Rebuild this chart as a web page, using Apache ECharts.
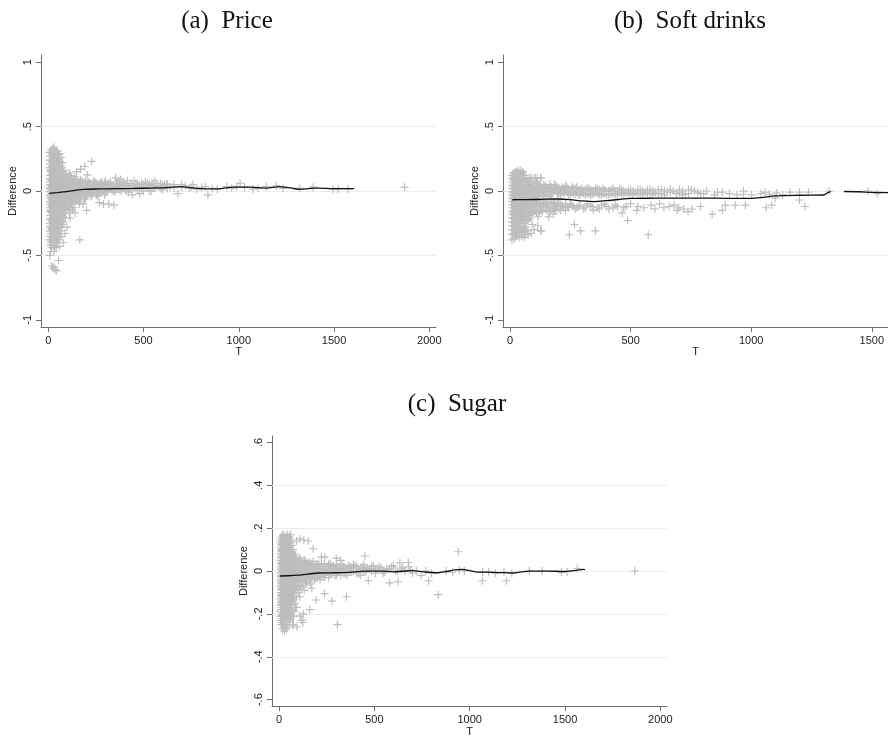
<!DOCTYPE html>
<html>
<head>
<meta charset="utf-8">
<script src="https://cdn.jsdelivr.net/npm/echarts@6/dist/echarts.min.js"></script>
<style>
  html, body { margin: 0; padding: 0; background: #fff; }
  #main { width: 888px; height: 738px; }
</style>
</head>
<body>
<div id="main"></div>
<script>
/* Three panels of difference vs T: scatter (+ markers) with a smoothed line. */

// ---- tick labels / grid lines ----
const xTicks = [0, 500, 1000, 1500, 2000];
const yTicksAB = [-1, -0.5, 0, 0.5, 1];
const yGridAB = [-0.5, 0, 0.5];
const yTicksC = [-0.6, -0.4, -0.2, 0, 0.2, 0.4, 0.6];
const yGridC = [-0.4, -0.2, 0, 0.2, 0.4];

// ---- (a) Price ----
const priceCols = [
  [8, [0.30, 0.24, 0.18, 0.12, 0.07, 0.02, -0.03, -0.08, -0.13, -0.19, -0.25, -0.31, -0.38, -0.50]],
  [13, [0.32, 0.27, 0.21, 0.16, 0.10, 0.05, 0.01, -0.04, -0.09, -0.15, -0.21, -0.27, -0.33, -0.40, -0.47]],
  [18, [0.29, 0.23, 0.19, 0.13, 0.08, 0.03, -0.02, -0.06, -0.11, -0.17, -0.23, -0.29, -0.36, -0.44, -0.58]],
  [24, [0.33, 0.28, 0.22, 0.17, 0.11, 0.06, 0.02, -0.03, -0.08, -0.13, -0.19, -0.25, -0.31, -0.37, -0.42, -0.60]],
  [30, [0.34, 0.30, 0.25, 0.20, 0.14, 0.09, 0.04, -0.01, -0.05, -0.10, -0.16, -0.22, -0.28, -0.34, -0.47, -0.59]],
  [36, [0.31, 0.26, 0.21, 0.15, 0.10, 0.05, 0.00, -0.04, -0.09, -0.14, -0.20, -0.26, -0.32, -0.39, -0.61]],
  [42, [0.29, 0.24, 0.18, 0.13, 0.08, 0.03, -0.02, -0.07, -0.12, -0.18, -0.24, -0.30, -0.36, -0.44, -0.62]],
  [48, [0.31, 0.26, 0.20, 0.15, 0.09, 0.04, -0.01, -0.05, -0.10, -0.15, -0.21, -0.27, -0.34, -0.40]],
  [54, [0.28, 0.22, 0.17, 0.12, 0.07, 0.02, -0.03, -0.08, -0.13, -0.19, -0.25, -0.31, -0.38, -0.54]],
  [60, [0.29, 0.23, 0.16, 0.11, 0.06, 0.01, -0.04, -0.09, -0.14, -0.20, -0.26, -0.33, -0.43]],
  [67, [0.26, 0.20, 0.14, 0.09, 0.04, 0.00, -0.05, -0.10, -0.15, -0.21, -0.28, -0.35]],
  [74, [0.22, 0.15, 0.10, 0.05, 0.01, -0.03, -0.08, -0.13, -0.19, -0.26]],
  [82, [0.16, 0.10, 0.05, 0.00, -0.05, -0.11, -0.17, -0.24]],
  [90, [0.13, 0.07, 0.02, -0.03, -0.08, -0.14, -0.21]],
  [100, [0.11, 0.06, 0.01, -0.04, -0.09, -0.15]],
  [110, [0.14, 0.08, 0.03, -0.02, -0.07, -0.12, -0.17]],
  [122, [0.10, 0.05, 0.00, -0.05, -0.10]],
  [134, [0.09, 0.04, -0.01, -0.06, -0.13]],
  [146, [0.08, 0.03, -0.02, -0.07]],
  [158, [0.07, 0.02, -0.03, -0.08]],
  [170, [0.09, 0.04, -0.01, -0.06]],
  [183, [0.06, 0.01, -0.04, -0.10]],
  [196, [0.08, 0.03, -0.02, -0.06]],
  [210, [0.07, 0.02, -0.02]],
  [224, [0.05, 0.00, -0.04]],
  [238, [0.08, 0.03, -0.01]],
  [252, [0.06, 0.02, -0.03]],
  [266, [0.05, 0.01, -0.02]],
  [280, [0.07, 0.02]],
  [295, [0.06, 0.01, -0.03]],
  [310, [0.05, 0.00]],
  [326, [0.07, 0.02]],
  [342, [0.04, 0.00]],
  [358, [0.06, 0.02]],
  [375, [0.05, 0.01]],
  [392, [0.07, 0.02]],
  [410, [0.04, 0.00]],
  [430, [0.06, 0.02]],
  [450, [0.08, 0.03]],
  [470, [0.05, 0.01]],
  [490, [0.06, 0.02]],
  [510, [0.07, 0.03]],
  [530, [0.05, 0.00]],
  [550, [0.06, 0.02]],
  [570, [0.04]],
  [590, [0.06, 0.02]],
  [610, [0.05]],
  [640, [0.03]]
];
const priceFill = [
  [11, [0.27, 0.21, 0.15, 0.09, 0.045, -0.005, -0.055, -0.105, -0.16, -0.22, -0.28, -0.35, -0.42]],
  [21, [0.31, 0.25, 0.19, 0.14, 0.085, 0.035, -0.015, -0.065, -0.12, -0.17, -0.23, -0.30, -0.39]],
  [33, [0.32, 0.27, 0.22, 0.17, 0.12, 0.065, 0.015, -0.035, -0.085, -0.135, -0.19, -0.25, -0.31, -0.37, -0.43]],
  [45, [0.28, 0.22, 0.16, 0.11, 0.06, 0.01, -0.04, -0.09, -0.14, -0.20, -0.26, -0.32, -0.38]],
  [57, [0.25, 0.19, 0.14, 0.09, 0.04, -0.01, -0.06, -0.11, -0.17, -0.23, -0.29, -0.36]],
  [70, [0.18, 0.12, 0.07, 0.02, -0.02, -0.07, -0.12, -0.18, -0.24, -0.31]],
  [78, [0.13, 0.08, 0.03, -0.02, -0.08, -0.14, -0.20]],
  [86, [0.10, 0.045, -0.005, -0.055, -0.11, -0.17]],
  [95, [0.09, 0.04, -0.01, -0.06, -0.12]],
  [105, [0.085, 0.035, -0.015, -0.065, -0.12]],
  [116, [0.12, 0.07, 0.02, -0.03, -0.08, -0.14]],
  [128, [0.07, 0.025, -0.025, -0.08]],
  [140, [0.11, 0.06, 0.015, -0.035, -0.09]],
  [152, [0.055, 0.005, -0.045]],
  [164, [0.065, 0.015, -0.035, -0.10]],
  [176, [0.075, 0.025, -0.025]],
  [189, [0.045, -0.005, -0.06]],
  [203, [0.055, 0.01, -0.04]],
  [217, [0.065, 0.025, -0.01]],
  [231, [0.04, 0.00, -0.03]],
  [245, [0.07, 0.035, 0.00]],
  [259, [0.045, 0.005, -0.04]],
  [273, [0.06, 0.03, -0.01]],
  [288, [0.045, 0.00]],
  [302, [0.03, -0.01]],
  [318, [0.06, 0.02]],
  [334, [0.045, 0.01]],
  [350, [0.03, -0.01]],
  [366, [0.075, 0.035]],
  [383, [0.04, 0.00]],
  [400, [0.055, 0.015]],
  [420, [0.03, -0.01]],
  [440, [0.045, 0.01]],
  [460, [0.02]],
  [480, [0.04]],
  [500, [0.05, 0.00]],
  [520, [0.03]],
  [540, [0.045, 0.00]],
  [560, [0.025]],
  [580, [0.035]],
  [600, [0.04]],
  [625, [0.02, 0.055]],
  [660, [0.025]],
  [700, [0.05]],
  [750, [0.03]]
];
const priceSparse = [
  [149, 0.15], [170, 0.17], [192, 0.19], [228, 0.23], [205, 0.125], [166, -0.38], [201, -0.15],
  [128, -0.15], [140, -0.17], [115, -0.21], [98, -0.28], [88, -0.33], [78, -0.40], [268, -0.09],
  [290, -0.10], [318, -0.10], [345, -0.11], [353, 0.10], [300, 0.075], [380, 0.09], [415, 0.08],
  [440, -0.03], [460, 0.06], [480, -0.02], [520, 0.06], [560, 0.08], [600, 0.01], [620, 0.05],
  [660, 0.05], [680, -0.02], [700, 0.03], [720, 0.04], [740, 0.02], [760, 0.05], [780, 0.015],
  [805, 0.03], [824, 0.035], [838, -0.03], [860, 0.02], [887, 0.015], [937, 0.035], [963, 0.02],
  [990, 0.035], [1007, 0.06], [1030, 0.03], [1075, 0.015], [1101, 0.02], [1144, 0.035],
  [1197, 0.04], [1232, 0.02], [1320, 0.02], [1390, 0.03], [1495, 0.015], [1521, 0.015],
  [1574, 0.015], [1870, 0.03]
];
const priceSmooth = [
  [5, -0.018], [50, -0.012], [96, -0.005], [140, 0.005], [184, 0.013], [271, 0.016], [350, 0.018],
  [446, 0.02], [540, 0.023], [621, 0.026], [691, 0.034], [740, 0.027], [796, 0.018], [883, 0.016],
  [930, 0.024], [970, 0.03], [1057, 0.03], [1145, 0.023], [1215, 0.034], [1250, 0.028],
  [1285, 0.02], [1320, 0.013], [1350, 0.016], [1390, 0.023], [1440, 0.021], [1495, 0.018], [1605, 0.018]
];

// ---- (b) Soft drinks ----
const softCols = [
  [8, [0.12, 0.07, 0.02, -0.03, -0.08, -0.13, -0.18, -0.24, -0.30, -0.38]],
  [13, [0.14, 0.09, 0.04, -0.01, -0.06, -0.11, -0.16, -0.21, -0.27, -0.33]],
  [18, [0.11, 0.06, 0.01, -0.04, -0.09, -0.14, -0.19, -0.25, -0.31, -0.37]],
  [23, [0.15, 0.10, 0.05, 0.00, -0.05, -0.10, -0.15, -0.20, -0.26, -0.32]],
  [28, [0.13, 0.08, 0.03, -0.02, -0.07, -0.12, -0.17, -0.23, -0.29, -0.35]],
  [33, [0.16, 0.11, 0.06, 0.01, -0.04, -0.09, -0.14, -0.19, -0.24, -0.30]],
  [38, [0.14, 0.09, 0.04, -0.01, -0.06, -0.11, -0.16, -0.22, -0.28, -0.36]],
  [43, [0.16, 0.12, 0.07, 0.02, -0.03, -0.08, -0.13, -0.18, -0.23, -0.30]],
  [48, [0.13, 0.08, 0.03, -0.02, -0.07, -0.12, -0.17, -0.23, -0.29, -0.35]],
  [54, [0.15, 0.10, 0.05, 0.00, -0.05, -0.10, -0.15, -0.20, -0.27, -0.34]],
  [60, [0.12, 0.07, 0.02, -0.03, -0.08, -0.13, -0.19, -0.25, -0.32]],
  [66, [0.10, 0.05, 0.00, -0.05, -0.10, -0.15, -0.21, -0.28, -0.34]],
  [72, [0.08, 0.03, -0.02, -0.07, -0.12, -0.17, -0.23, -0.31]],
  [80, [0.10, 0.05, 0.00, -0.04, -0.09, -0.14, -0.19]],
  [92, [0.06, 0.01, -0.03, -0.08, -0.13, -0.18, -0.26]],
  [104, [0.10, 0.04, 0.00, -0.05, -0.10, -0.15]],
  [116, [0.06, 0.01, -0.04, -0.09, -0.14, -0.20]],
  [128, [0.10, 0.03, -0.01, -0.10, -0.15, -0.31]],
  [140, [0.05, 0.00, -0.04, -0.09, -0.13]],
  [152, [0.03, -0.01, -0.10, -0.15]],
  [165, [0.05, 0.00, -0.04, -0.11, -0.16]],
  [178, [0.02, -0.02, -0.09, -0.13]],
  [190, [0.04, 0.00, -0.11, -0.15]],
  [203, [0.02, -0.02, -0.09, -0.14]],
  [216, [0.03, -0.01, -0.12]],
  [230, [0.04, 0.00, -0.10, -0.15]],
  [243, [0.01, -0.03, -0.13]],
  [256, [0.03, -0.01, -0.11]],
  [270, [0.02, -0.02, -0.14]],
  [284, [0.00, -0.03, -0.12]],
  [298, [0.02, -0.01]],
  [312, [0.01, -0.03, -0.13]],
  [326, [0.02, -0.02]],
  [340, [0.00, -0.03, -0.12]],
  [355, [0.02, -0.01]],
  [370, [0.01, -0.03, -0.14]],
  [385, [0.02, -0.02]],
  [400, [0.00, -0.03, -0.12]],
  [418, [0.01, -0.02]],
  [436, [0.00, -0.03, -0.11]],
  [454, [0.02, -0.01]],
  [472, [0.00, -0.03, -0.13]],
  [490, [0.01, -0.02]],
  [510, [0.00, -0.03]],
  [530, [0.01, -0.02, -0.12]],
  [550, [0.00, -0.03]],
  [570, [0.01, -0.02]],
  [592, [0.00, -0.03]],
  [615, [0.01, -0.02]],
  [640, [0.00, -0.03]],
  [665, [0.01, -0.01]],
  [690, [-0.02]],
  [715, [0.00, -0.03]],
  [740, [0.01, -0.02]],
  [765, [0.00]],
  [790, [-0.02]],
  [815, [0.00]],
  [848, [-0.03]]
];
const softFill = [
  [10, [0.10, 0.045, -0.005, -0.055, -0.105, -0.155, -0.21, -0.27, -0.34]],
  [20, [0.13, 0.08, 0.03, -0.02, -0.07, -0.12, -0.17, -0.22, -0.28, -0.35]],
  [30, [0.15, 0.10, 0.05, 0.00, -0.05, -0.10, -0.15, -0.21, -0.27, -0.33]],
  [40, [0.12, 0.07, 0.02, -0.03, -0.08, -0.13, -0.19, -0.25, -0.32]],
  [51, [0.14, 0.09, 0.04, -0.01, -0.06, -0.11, -0.16, -0.22, -0.30]],
  [63, [0.09, 0.04, -0.01, -0.06, -0.11, -0.17, -0.23, -0.30]],
  [76, [0.07, 0.02, -0.02, -0.07, -0.12, -0.17, -0.22]],
  [86, [0.08, 0.03, -0.02, -0.06, -0.11, -0.16, -0.21]],
  [98, [0.04, -0.01, -0.06, -0.11, -0.16]],
  [110, [0.07, 0.02, -0.02, -0.07, -0.12, -0.17]],
  [122, [0.04, 0.00, -0.06, -0.12, -0.17]],
  [134, [0.02, -0.02, -0.07, -0.11, -0.16]],
  [146, [0.04, 0.01, -0.06, -0.12]],
  [158, [0.02, -0.03, -0.08, -0.13]],
  [171, [0.03, -0.01, -0.06, -0.14]],
  [184, [0.05, 0.01, -0.10, -0.14]],
  [197, [0.03, -0.01, -0.07, -0.12]],
  [210, [0.01, -0.03, -0.11, -0.15]],
  [223, [0.02, -0.02, -0.13]],
  [237, [0.03, -0.01, -0.12]],
  [250, [0.00, -0.03, -0.10]],
  [263, [0.02, -0.02, -0.12]],
  [277, [0.03, -0.01, -0.13]],
  [291, [0.01, -0.03, -0.11]],
  [305, [0.00, -0.02, -0.14]],
  [319, [0.02, -0.02]],
  [333, [0.01, -0.03, -0.11]],
  [348, [0.00, -0.02]],
  [362, [0.02, -0.02, -0.13]],
  [378, [0.00, -0.03]],
  [392, [0.01, -0.02, -0.10]],
  [409, [0.00, -0.03]],
  [427, [0.02, -0.02, -0.13]],
  [445, [0.00, -0.03]],
  [463, [0.01, -0.02]],
  [481, [-0.01, -0.12]],
  [500, [0.01, -0.02]],
  [520, [-0.01]],
  [540, [0.01, -0.02]],
  [560, [-0.01]],
  [581, [0.01, -0.02]],
  [603, [-0.01]],
  [627, [0.01, -0.02]],
  [652, [-0.01]],
  [677, [0.00]],
  [702, [0.01, -0.01]],
  [727, [-0.02]],
  [752, [0.01]],
  [778, [-0.01]],
  [803, [-0.02]]
];
const softSparse = [
  [88, 0.10], [100, 0.10], [113, 0.10], [128, 0.10], [60, -0.36], [75, -0.34], [88, -0.33],
  [100, -0.30], [115, -0.27], [130, -0.31], [160, -0.20], [180, -0.18], [246, -0.34], [267, -0.26],
  [292, -0.31], [354, -0.31], [465, -0.17], [488, -0.23], [573, -0.34], [526, -0.15], [600, -0.14],
  [638, -0.13], [660, -0.12], [693, -0.15], [720, -0.14], [738, -0.16], [755, -0.14], [790, -0.12],
  [838, -0.18], [880, -0.15], [893, -0.11], [934, -0.11], [976, -0.11], [1062, -0.13], [1085, -0.11],
  [1223, -0.12], [1200, -0.07], [1099, -0.055], [320, -0.10], [345, -0.15], [380, -0.11],
  [410, -0.14], [445, -0.12], [500, -0.10], [555, -0.13], [585, -0.11], [620, -0.10], [680, -0.11],
  [700, -0.13], [860, -0.01], [880, -0.01], [910, -0.02], [941, -0.03], [968, 0.00], [968, -0.025],
  [1002, -0.03], [1040, -0.02], [1057, -0.01], [1075, -0.025], [1105, -0.015], [1130, -0.03],
  [1161, -0.01], [1200, -0.01], [1237, -0.01], [1323, 0.00], [1485, 0.00], [1522, -0.02]
];
const softSmooth = [
  [10, -0.068], [50, -0.067], [100, -0.066], [150, -0.063], [200, -0.062], [250, -0.067],
  [300, -0.077], [350, -0.082], [400, -0.075], [450, -0.066], [500, -0.058], [600, -0.056],
  [700, -0.055], [800, -0.055], [900, -0.057], [1000, -0.057], [1040, -0.052], [1100, -0.038],
  [1200, -0.033], [1300, -0.031], [1318, -0.012], [1330, -0.005], [1355, null],
  [1385, -0.004], [1450, -0.006], [1500, -0.011], [1567, -0.012]
];

// ---- (c) Sugar ----
const sugarCols = [
  [8, [0.14, 0.11, 0.08, 0.05, 0.02, -0.01, -0.04, -0.07, -0.10, -0.13, -0.16, -0.19, -0.23]],
  [13, [0.16, 0.13, 0.10, 0.07, 0.04, 0.01, -0.02, -0.05, -0.08, -0.11, -0.14, -0.17, -0.21, -0.25]],
  [18, [0.15, 0.12, 0.09, 0.06, 0.03, 0.00, -0.03, -0.06, -0.09, -0.12, -0.15, -0.18, -0.22, -0.27]],
  [23, [0.17, 0.14, 0.11, 0.08, 0.05, 0.02, -0.01, -0.04, -0.07, -0.10, -0.13, -0.16, -0.20, -0.24]],
  [28, [0.15, 0.12, 0.09, 0.06, 0.03, 0.00, -0.03, -0.06, -0.09, -0.12, -0.15, -0.19, -0.23, -0.28]],
  [33, [0.16, 0.13, 0.10, 0.07, 0.04, 0.01, -0.02, -0.05, -0.08, -0.11, -0.14, -0.17, -0.21, -0.25]],
  [38, [0.14, 0.11, 0.08, 0.05, 0.02, -0.01, -0.04, -0.07, -0.10, -0.13, -0.16, -0.20, -0.27]],
  [43, [0.17, 0.13, 0.10, 0.07, 0.04, 0.01, -0.02, -0.05, -0.08, -0.11, -0.15, -0.19, -0.23]],
  [48, [0.15, 0.12, 0.09, 0.06, 0.03, 0.00, -0.03, -0.06, -0.09, -0.12, -0.16, -0.22]],
  [54, [0.16, 0.12, 0.08, 0.05, 0.02, -0.01, -0.04, -0.07, -0.10, -0.14, -0.18, -0.24]],
  [60, [0.17, 0.13, 0.09, 0.06, 0.03, 0.00, -0.03, -0.06, -0.09, -0.13, -0.17, -0.22]],
  [66, [0.12, 0.08, 0.05, 0.02, -0.01, -0.04, -0.08, -0.12, -0.16, -0.21]],
  [72, [0.10, 0.06, 0.03, 0.00, -0.03, -0.06, -0.10, -0.14, -0.25]],
  [78, [0.08, 0.05, 0.02, -0.01, -0.04, -0.08, -0.12, -0.19]],
  [86, [0.07, 0.04, 0.01, -0.02, -0.05, -0.09, -0.17]],
  [96, [0.05, 0.02, -0.01, -0.04, -0.08]],
  [108, [0.06, 0.03, 0.00, -0.03, -0.07, -0.12]],
  [120, [0.04, 0.01, -0.02, -0.05]],
  [132, [0.05, 0.02, -0.01, -0.04, -0.09]],
  [145, [0.03, 0.00, -0.03, -0.06]],
  [158, [0.04, 0.01, -0.02, -0.05]],
  [172, [0.03, 0.00, -0.03, -0.08]],
  [186, [0.02, -0.01, -0.04]],
  [200, [0.03, 0.00, -0.03]],
  [215, [0.02, -0.01, -0.04]],
  [230, [0.02, -0.01]],
  [245, [0.01, -0.02]],
  [260, [0.03, 0.00, -0.03]],
  [276, [0.02, -0.01]],
  [292, [0.01, -0.02]],
  [308, [0.02, -0.01]],
  [324, [0.01, -0.02]],
  [340, [0.02, -0.01]],
  [356, [0.01, -0.02]],
  [372, [0.02, 0.00]],
  [390, [0.03, 0.00]],
  [408, [0.02, -0.01]],
  [426, [0.01, -0.02]],
  [445, [0.03, 0.00]],
  [465, [0.01]],
  [485, [0.02, 0.00]],
  [505, [0.01, -0.01]],
  [525, [0.02]],
  [545, [0.00, -0.01]],
  [565, [0.01]],
  [590, [0.02]],
  [610, [0.00]],
  [640, [0.01]],
  [660, [0.00]],
  [700, [-0.01]],
  [720, [0.00]],
  [745, [-0.02]],
  [770, [0.00]],
  [800, [-0.01]]
];
const sugarFill = [
  [10, [0.125, 0.095, 0.065, 0.035, 0.005, -0.025, -0.055, -0.085, -0.115, -0.145, -0.18, -0.21]],
  [15, [0.15, 0.12, 0.09, 0.06, 0.03, 0.00, -0.03, -0.06, -0.09, -0.12, -0.155, -0.20, -0.24]],
  [20, [0.165, 0.135, 0.105, 0.075, 0.045, 0.015, -0.015, -0.045, -0.075, -0.105, -0.135, -0.17, -0.21, -0.25]],
  [26, [0.155, 0.125, 0.095, 0.065, 0.035, 0.005, -0.025, -0.055, -0.085, -0.115, -0.145, -0.18, -0.22, -0.26]],
  [31, [0.14, 0.11, 0.08, 0.05, 0.02, -0.01, -0.04, -0.07, -0.10, -0.13, -0.17, -0.21]],
  [36, [0.155, 0.125, 0.095, 0.065, 0.035, 0.005, -0.025, -0.055, -0.085, -0.115, -0.15, -0.19, -0.24]],
  [41, [0.15, 0.12, 0.09, 0.06, 0.03, 0.00, -0.03, -0.06, -0.09, -0.12, -0.17, -0.21]],
  [46, [0.16, 0.13, 0.10, 0.07, 0.04, 0.01, -0.02, -0.05, -0.08, -0.11, -0.14, -0.18, -0.26]],
  [51, [0.14, 0.10, 0.07, 0.04, 0.01, -0.02, -0.05, -0.08, -0.11, -0.15, -0.20]],
  [57, [0.15, 0.11, 0.075, 0.045, 0.015, -0.015, -0.045, -0.075, -0.11, -0.15, -0.19, -0.23]],
  [63, [0.14, 0.10, 0.07, 0.04, 0.01, -0.02, -0.05, -0.09, -0.13, -0.18]],
  [69, [0.09, 0.06, 0.03, 0.00, -0.03, -0.06, -0.10, -0.14, -0.19]],
  [75, [0.07, 0.04, 0.01, -0.02, -0.05, -0.09, -0.13, -0.21]],
  [82, [0.06, 0.03, 0.00, -0.03, -0.06, -0.10, -0.15]],
  [91, [0.045, 0.015, -0.015, -0.045, -0.07, -0.12]],
  [102, [0.04, 0.01, -0.02, -0.05, -0.10]],
  [114, [0.05, 0.02, -0.01, -0.04, -0.08]],
  [126, [0.035, 0.005, -0.03, -0.07]],
  [139, [0.045, 0.015, -0.015, -0.05]],
  [152, [0.025, -0.005, -0.035]],
  [165, [0.035, 0.005, -0.025, -0.06]],
  [179, [0.045, 0.015, -0.015]],
  [193, [0.025, -0.005, -0.035]],
  [208, [0.035, 0.01, -0.02]],
  [222, [0.03, 0.005, -0.025]],
  [238, [0.035, 0.005, -0.03]],
  [253, [0.02, -0.005]],
  [268, [0.035, 0.01, -0.015]],
  [284, [0.025, 0.00]],
  [300, [0.03, 0.005, -0.02]],
  [316, [0.02, -0.005]],
  [332, [0.03, 0.005]],
  [348, [0.015, -0.01]],
  [364, [0.025, 0.005]],
  [381, [0.015, -0.005]],
  [399, [0.025]],
  [417, [0.01, -0.01]],
  [436, [0.02]],
  [455, [0.015, -0.005]],
  [475, [0.01]],
  [495, [0.025]],
  [515, [0.005]],
  [535, [0.015]],
  [555, [-0.005]],
  [578, [0.01]],
  [600, [0.025]],
  [620, [0.00]],
  [650, [0.015]],
  [690, [0.005]]
];
const sugarSparse = [
  [91, 0.14], [110, 0.15], [130, 0.145], [153, 0.14], [179, 0.104], [222, 0.065], [240, 0.065],
  [300, 0.06], [323, 0.05], [450, 0.07], [940, 0.09], [306, -0.25], [277, -0.14], [353, -0.12],
  [195, -0.135], [239, -0.105], [161, -0.18], [127, -0.20], [119, -0.23], [93, -0.17], [110, -0.21],
  [125, -0.24], [59, -0.22], [75, -0.25], [94, -0.26], [835, -0.11], [580, -0.055], [624, -0.05],
  [468, -0.045], [785, -0.045], [1066, -0.045], [1192, -0.045], [634, 0.038], [678, 0.04],
  [680, 0.02], [876, 0.0], [910, -0.005], [946, 0.005], [972, 0.0], [1068, -0.005], [1100, -0.005],
  [1134, -0.01], [1180, -0.005], [1221, -0.01], [1313, 0.0], [1380, 0.0], [1481, -0.005],
  [1511, -0.003], [1564, 0.012], [1866, 0.0]
];
const sugarSmooth = [
  [5, -0.023], [50, -0.022], [100, -0.019], [150, -0.014], [210, -0.009], [300, -0.008],
  [385, -0.005], [440, 0.0], [550, 0.0], [600, -0.004], [650, -0.001], [700, 0.002],
  [760, -0.004], [833, -0.008], [870, -0.004], [920, 0.005], [959, 0.008], [1000, 0.002],
  [1040, -0.005], [1082, -0.005], [1150, -0.007], [1222, -0.009], [1270, -0.004], [1310, 0.0],
  [1400, 0.0], [1500, -0.002], [1560, 0.003], [1595, 0.008], [1605, 0.007]
];

// ---- styling ----
const AX = '#6e6e6e';
const TXT = '#222';
const MARK = '#bdbdbd';
const SANS = "'Liberation Sans', Arial, sans-serif";
const SERIF = "'Liberation Serif', 'Times New Roman', serif";
const PLUS = 'path://M3,0H4V3H7V4H4V7H3V4H0V3H3Z';

const stata = (v) => String(Math.round(v * 10) / 10).replace(/^(-?)0\./, '$1.');
const points = (sparse, ...colSets) => {
  const out = [];
  colSets.forEach((cols) => cols.forEach(([t, ds]) => ds.forEach((d) => out.push([t, d]))));
  return out.concat(sparse);
};

function xAxis(grid, min, max) {
  return {
    gridIndex: grid, type: 'value', min, max,
    axisLine: { show: true, onZero: false, lineStyle: { color: AX, width: 1 } },
    axisTick: { show: true, length: 5, customValues: xTicks, lineStyle: { color: AX } },
    axisLabel: {
      customValues: xTicks, margin: 8, color: TXT, fontSize: 11, fontFamily: SANS,
      formatter: (v) => String(v)
    },
    splitLine: { show: false },
    name: 'T', nameLocation: 'middle', nameGap: 19,
    nameTextStyle: { color: TXT, fontSize: 11, fontFamily: SANS }
  };
}
function yAxis(grid, lim, ticks) {
  return {
    gridIndex: grid, type: 'value', min: -lim, max: lim,
    axisLine: { show: true, onZero: false, lineStyle: { color: AX, width: 1 } },
    axisTick: { show: true, length: 5, customValues: ticks, lineStyle: { color: AX } },
    axisLabel: {
      customValues: ticks, rotate: 90, margin: 8, color: TXT, fontSize: 11, fontFamily: SANS,
      formatter: stata
    },
    splitLine: { show: false },
    name: 'Difference', nameLocation: 'middle', nameGap: 23,
    nameTextStyle: { color: TXT, fontSize: 11, fontFamily: SANS }
  };
}
function scatter(i, data, gridVals) {
  return {
    type: 'scatter', xAxisIndex: i, yAxisIndex: i, data,
    symbol: PLUS, symbolSize: 8, z: 2,
    itemStyle: { color: MARK, opacity: 1 },
    markLine: {
      silent: true, symbol: ['none', 'none'], z: 1, animation: false,
      label: { show: false },
      lineStyle: { color: '#ededed', width: 1, type: 'solid' },
      data: gridVals.map((v) => ({ yAxis: v }))
    }
  };
}
function smooth(i, data) {
  return {
    type: 'line', xAxisIndex: i, yAxisIndex: i, data,
    showSymbol: false, smooth: 0.3, connectNulls: false, z: 3,
    lineStyle: { color: '#111', width: 1.3 }
  };
}

const titleStyle = { fontFamily: SERIF, fontSize: 25, fontWeight: 'normal', color: '#111' };
const chart = echarts.init(document.getElementById('main'));
chart.setOption({
  animation: false,
  backgroundColor: '#fff',
  title: [
    { text: '(a)  Price', left: 222, top: 4, textAlign: 'center', textStyle: titleStyle },
    { text: '(b)  Soft drinks', left: 685, top: 4, textAlign: 'center', textStyle: titleStyle },
    { text: '(c)  Sugar', left: 452, top: 387, textAlign: 'center', textStyle: titleStyle }
  ],
  grid: [
    { left: 41, top: 55, width: 395, height: 272 },
    { left: 503, top: 55, width: 385, height: 272 },
    { left: 272, top: 436, width: 395, height: 271 }
  ],
  xAxis: [xAxis(0, -38, 2035), xAxis(1, -29, 1567), xAxis(2, -37, 2035)],
  yAxis: [yAxis(0, 1.056, yTicksAB), yAxis(1, 1.056, yTicksAB), yAxis(2, 0.63, yTicksC)],
  series: [
    scatter(0, points(priceSparse, priceCols, priceFill), yGridAB),
    smooth(0, priceSmooth),
    scatter(1, points(softSparse, softCols, softFill), yGridAB),
    smooth(1, softSmooth),
    scatter(2, points(sugarSparse, sugarCols, sugarFill), yGridC),
    smooth(2, sugarSmooth)
  ]
});
window.addEventListener('resize', () => chart.resize());
</script>
</body>
</html>
